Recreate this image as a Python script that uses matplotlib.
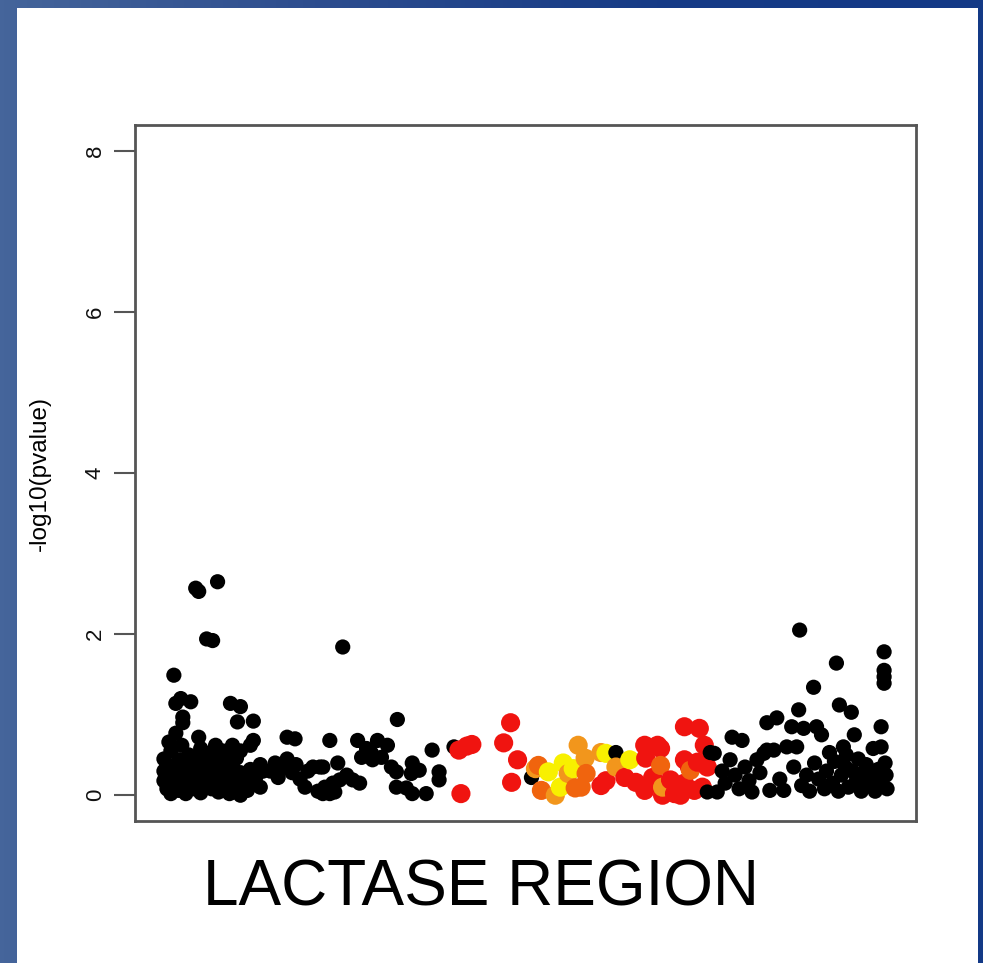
import numpy as np
import matplotlib
matplotlib.use("Agg")
import matplotlib.pyplot as plt
from matplotlib.colors import LinearSegmentedColormap

# ---------------- data ----------------
# SNP positions (arbitrary position units along the region) and -log10(p)
black_x = [3, 6, 10, 14, 18, 21, 25, 28, 32, 36, 40, 44, 47, 51, 55, 58, 62, 65, 69, 72, 76, 80,
           3, 6, 10, 14, 18, 21, 25, 28, 32, 36, 40, 44, 47, 51, 55, 58, 62, 65, 69, 72, 76, 80,
           83, 87, 90, 93, 96, 100, 103, 3, 6, 10, 25, 40, 55, 69, 80, 90, 100,
           35, 38, 57, 13, 20, 30, 15, 22, 22, 15, 8, 38, 70, 80, 77, 93, 93, 127, 135, 170, 183,
           46, 52,
           110, 115, 118, 123, 127, 132, 136, 140, 145, 148, 153, 158, 160, 170,
           163, 163, 165, 173, 175, 178, 180, 187, 193, 198, 200, 202, 207, 212, 213, 218, 222,
           228, 232, 237, 237, 238, 247, 252, 253, 253, 260, 267, 273, 280, 280, 295, 373, 458,
           553, 550, 557, 560, 565, 568, 573, 575, 578, 582, 585, 588, 592, 595, 600, 603, 607,
           610, 610, 613, 617, 620, 623, 627, 630, 635, 637, 640, 642, 643, 645, 647, 650, 653,
           657, 658, 660, 662, 665, 668, 670, 673, 676, 678, 680, 682, 683, 685, 687, 689, 690,
           692, 695, 696, 698, 700, 702, 705, 707, 710, 712, 715, 717, 719, 722, 725, 725, 726,
           728, 728, 728, 728, 729, 730, 731]
black_y = [0.45, 0.38, 0.55, 0.33, 0.44, 0.62, 0.15, 0.50, 0.08, 0.46, 0.58, 0.40, 0.25, 0.08, 0.62,
           0.45, 0.30, 0.14, 0.50, 0.36, 0.10, 0.28,
           0.30, 0.24, 0.12, 0.20, 0.06, 0.28, 0.37, 0.24, 0.34, 0.20, 0.03, 0.14, 0.52, 0.36, 0.20,
           0.04, 0.55, 0.40, 0.02, 0.62, 0.46, 0.55,
           0.18, 0.06, 0.32, 0.14, 0.24, 0.38, 0.30, 0.18, 0.08, 0.02, 0.02, 0.30, 0.24, 0.24, 0.00,
           0.62, 0.10,
           2.57, 2.53, 2.65, 1.49, 1.20, 1.16, 1.14, 0.97, 0.90, 0.77, 0.66, 0.72, 1.14, 1.10, 0.91,
           0.92, 0.68, 0.72, 0.70, 0.68, 1.84,
           1.94, 1.92,
           0.30, 0.40, 0.22, 0.35, 0.45, 0.28, 0.38, 0.20, 0.10, 0.30, 0.35, 0.05, 0.35, 0.02,
           0.35, 0.02, 0.10, 0.15, 0.04, 0.40, 0.19, 0.25, 0.19, 0.68, 0.15, 0.47, 0.58, 0.52,
           0.44, 0.68, 0.47,
           0.62, 0.35, 0.29, 0.10, 0.94, 0.09, 0.27, 0.40, 0.02, 0.31, 0.02, 0.56, 0.29, 0.19,
           0.60, 0.22, 0.53,
           0.53, 0.04, 0.52, 0.04, 0.30, 0.15, 0.44, 0.72, 0.25, 0.08,
           0.68, 0.35, 0.18, 0.04, 0.44, 0.28, 0.52, 0.56, 0.90, 0.06,
           0.56, 0.96, 0.20, 0.06, 0.60, 0.85, 0.35, 0.60, 1.06, 2.05,
           0.12, 0.83, 0.25, 0.05, 1.34, 0.40, 0.85, 0.20, 0.75, 0.08,
           0.30, 0.53, 0.15, 0.42, 1.64, 0.05, 1.12, 0.25, 0.60, 0.35,
           0.50, 0.10, 1.03, 0.30, 0.75, 0.18, 0.45, 0.05, 0.28, 0.38,
           0.12, 0.22, 0.58, 0.05, 0.32, 0.85, 0.60, 0.15, 1.78, 1.55,
           1.47, 1.39, 0.40, 0.25, 0.08]

red_x = [300, 308, 313, 302, 352, 345, 359, 353, 443, 448, 467, 478, 487, 488, 500, 503, 495, 487,
         513, 517, 527, 542, 527, 532, 540, 547, 550, 527, 537, 545, 505, 523]
red_y = [0.56, 0.61, 0.63, 0.02, 0.90, 0.65, 0.44, 0.16, 0.12, 0.18, 0.22, 0.16, 0.62, 0.46, 0.62,
         0.58, 0.22, 0.06, 0.19, 0.02, 0.85, 0.83, 0.44, 0.35, 0.41, 0.62, 0.35, 0.15, 0.06, 0.10,
         0.00, 0.00]

dkorange_x = [380, 383, 417, 423, 428, 503, 533]
dkorange_y = [0.37, 0.06, 0.09, 0.10, 0.27, 0.37, 0.31]

orange_x = [397, 410, 420, 427, 443, 458, 505, 377]
orange_y = [0.00, 0.27, 0.62, 0.46, 0.53, 0.35, 0.10, 0.33]

yellow_x = [390, 405, 402, 415, 448, 472]
yellow_y = [0.29, 0.40, 0.10, 0.33, 0.52, 0.44]

yticks = [0, 2, 4, 6, 8]

# ---------------- figure ----------------
W, H = 983, 963
fig = plt.figure(figsize=(W / 100, H / 100), dpi=100)

# blue gradient background
bg = fig.add_axes([0, 0, 1, 1])
bg.set_axis_off()
cmap = LinearSegmentedColormap.from_list("bgblue", ["#45659b", "#2c4c8e", "#163b86", "#133986"])
grad = np.linspace(0, 1, 256).reshape(1, -1)
bg.imshow(grad, aspect="auto", cmap=cmap, extent=[0, 1, 0, 1])
bg.set_xlim(0, 1)
bg.set_ylim(0, 1)
bg.add_patch(plt.Rectangle((17 / W, 0), (978 - 17) / W, (963 - 8) / H,
                           facecolor="white", edgecolor="none"))

ax = fig.add_axes([135 / W, (963 - 821) / H, (916 - 135) / W, (821 - 125) / H])
ax.set_facecolor("white")

groups = [(black_x, black_y, "#000000", 120),
          (red_x, red_y, "#f01410", 190),
          (dkorange_x, dkorange_y, "#f0640e", 190),
          (orange_x, orange_y, "#f2961c", 190),
          (yellow_x, yellow_y, "#f8f000", 190)]
xs, ys, cols, sizes = [], [], [], []
for gx, gy, gc, gs in groups:
    n = min(len(gx), len(gy))
    xs += list(gx[:n]); ys += list(gy[:n]); cols += [gc] * n; sizes += [gs] * n
xs = np.array(xs, float); ys = np.array(ys, float)
order = np.argsort(xs, kind="stable")
ax.scatter(xs[order], ys[order], c=[cols[i] for i in order], s=[sizes[i] for i in order],
           linewidths=0, zorder=3)

xmin, xmax = xs.min(), xs.max()
pad = 0.04 * (xmax - xmin)
ax.set_xlim(xmin - pad, xmax + pad)
ax.set_ylim(-0.32, 8.32)
ax.set_xticks([])
ax.set_yticks(yticks)
ax.set_yticklabels([str(t) for t in yticks], rotation=90, va="center",
                   fontsize=16, family="Liberation Sans", color="#111111")
ax.tick_params(axis="y", length=15, width=1.5, color="#555555", pad=6)
for s in ax.spines.values():
    s.set_color("#555555")
    s.set_linewidth(2)
ax.set_ylabel("-log10(pvalue)", fontsize=17.5, family="Liberation Sans")
ax.yaxis.set_label_coords(-(135 - 51) / (916 - 135), 0.5)

fig.text(481 / W, 1 - 888 / H, "LACTASE REGION", fontsize=46, family="Liberation Sans",
         ha="center", va="center", color="black")

fig.savefig("out.png", dpi=100)
